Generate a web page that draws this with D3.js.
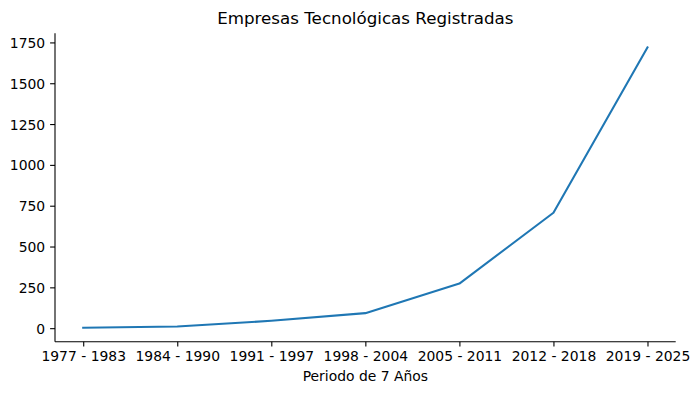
<!DOCTYPE html>
<html>
<head>
<meta charset="utf-8">
<script src="https://cdn.jsdelivr.net/npm/d3@7"></script>
<style>
  body { margin: 0; background: #fff; }
  svg { display: block; font-family: "DejaVu Sans", sans-serif; }
  .tick text { font-family: "DejaVu Sans", sans-serif; font-size: 13.9px; fill: #000; }
</style>
</head>
<body>
<svg id="chart" width="698" height="394"></svg>
<script>
// chart values
const periods = ['1977 - 1983', '1984 - 1990', '1991 - 1997', '1998 - 2004', '2005 - 2011', '2012 - 2018', '2019 - 2025']
const companies = [3, 10, 45, 92, 273, 707, 1720]
const yTicks = [0, 250, 500, 750, 1000, 1250, 1500, 1750]

const width = 698, height = 394
const margin = { top: 33.3, right: 22.3, bottom: 52.3, left: 55 }

const svg = d3.select('#chart')

// matplotlib style 5% padding on both axes
const n = periods.length
const xPad = (n - 1) * 0.05
let x = d3.scaleLinear()
  .domain([-xPad, n - 1 + xPad])
  .range([margin.left, width - margin.right])

const yMin = d3.min(companies), yMax = d3.max(companies)
const yPad = (yMax - yMin) * 0.05
let y = d3.scaleLinear()
  .domain([yMin - yPad, yMax + yPad])
  .range([height - margin.bottom, margin.top])

let xAxis = d3.axisBottom(x)
  .tickValues(d3.range(n))
  .tickFormat(i => periods[i])
  .tickSize(4.9)
  .tickPadding(4.9)

let yAxis = d3.axisLeft(y)
  .tickValues(yTicks)
  .tickFormat(d3.format('d'))
  .tickSize(4.9)
  .tickPadding(4.9)

let gx = svg.append('g')
  .attr('transform', `translate(0, ${ height - margin.bottom })`)
  .call(xAxis)
  .attr('font-family', null)
  .attr('font-size', null)
gx.select('.domain').attr('d', `M${ margin.left },0H${ width - margin.right }`)

let gy = svg.append('g')
  .attr('transform', `translate(${ margin.left }, 0)`)
  .call(yAxis)
  .attr('font-family', null)
  .attr('font-size', null)
gy.select('.domain').attr('d', `M0,${ margin.top }V${ height - margin.bottom }`)

svg.selectAll('.domain').attr('stroke', '#000').attr('stroke-width', 1.1)
svg.selectAll('.tick line').attr('stroke', '#000').attr('stroke-width', 1.1)
gy.selectAll('.tick text').attr('dy', '0.36em')

let line = d3.line()
  .x((d, i) => x(i))
  .y(d => y(d))

svg.append('path')
  .datum(companies)
  .attr('fill', 'none')
  .attr('stroke', '#1f77b4')
  .attr('stroke-width', 2.08)
  .attr('stroke-linejoin', 'round')
  .attr('stroke-linecap', 'square')
  .attr('d', line)

// title and axis label
svg.append('text')
  .attr('x', (margin.left + width - margin.right) / 2)
  .attr('y', 24)
  .attr('text-anchor', 'middle')
  .style('font-size', '16.7px')
  .text('Empresas Tecnológicas Registradas')

svg.append('text')
  .attr('x', (margin.left + width - margin.right) / 2)
  .attr('y', 381)
  .attr('text-anchor', 'middle')
  .style('font-size', '13.9px')
  .text('Periodo de 7 Años')
</script>
</body>
</html>
